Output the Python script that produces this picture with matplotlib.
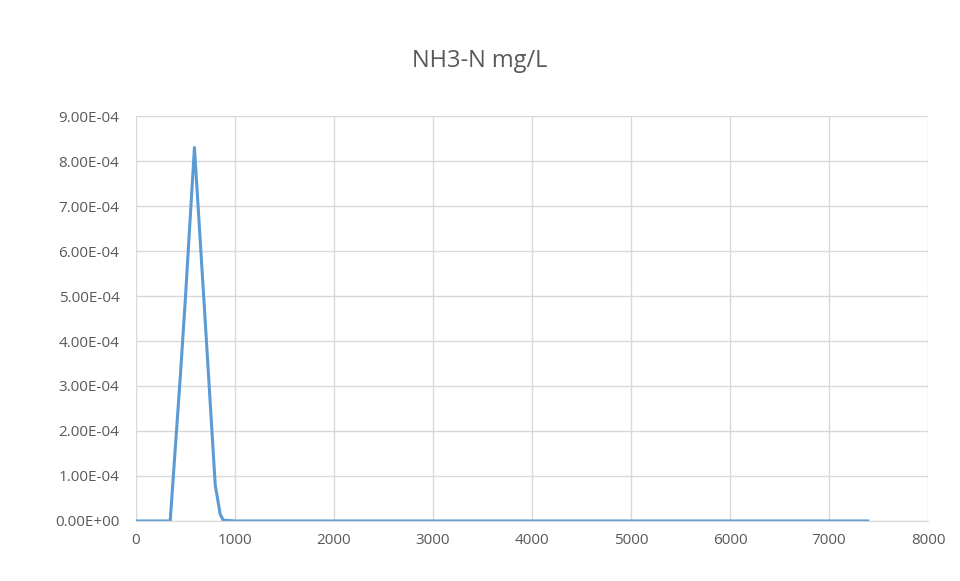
import matplotlib.pyplot as plt
from matplotlib.ticker import FuncFormatter

# NH3-N concentration profile (mg/L) along distance
distance = [0, 100, 200, 300, 345, 450, 500, 590, 700, 800, 850, 880, 1000, 2000, 3000, 4000, 5000, 6000, 7000, 7390]
nh3_n = [0, 0, 0, 0, 0.0, 3.3e-4, 5.0e-4, 8.3e-4, 4.4e-4, 0.8e-4, 0.15e-4, 0.02e-4, 0, 0, 0, 0, 0, 0, 0, 0]

x_ticks = [0, 1000, 2000, 3000, 4000, 5000, 6000, 7000, 8000]
y_ticks = [i * 1e-4 for i in range(10)]

plt.rcParams['font.family'] = ['Open Sans', 'DejaVu Sans']

fig = plt.figure(figsize=(9.6, 5.81), dpi=100)
ax = fig.add_axes([0.1417, 0.1033, 0.825, 0.697])

ax.plot(distance, nh3_n, color='#5B9BD5', linewidth=2.2)

ax.set_xlim(0, 8000)
ax.set_ylim(0, 9e-4)
ax.set_xticks(x_ticks)
ax.set_yticks(y_ticks)
ax.yaxis.set_major_formatter(FuncFormatter(lambda v, p: f"{v:.2E}"))

ax.grid(True, color='#D9D9D9', linewidth=1)
ax.set_axisbelow(True)
for side in ['left', 'right', 'top']:
    ax.spines[side].set_visible(False)
ax.spines['bottom'].set_color('#D9D9D9')
ax.tick_params(axis='both', length=0, labelsize=11, colors='#595959')
ax.tick_params(axis='y', pad=12)
ax.tick_params(axis='x', pad=9)

fig.suptitle('NH3-N mg/L', x=0.5, y=0.915, fontsize=17, color='#595959')

fig.savefig('out.png', dpi=100, facecolor='white')
